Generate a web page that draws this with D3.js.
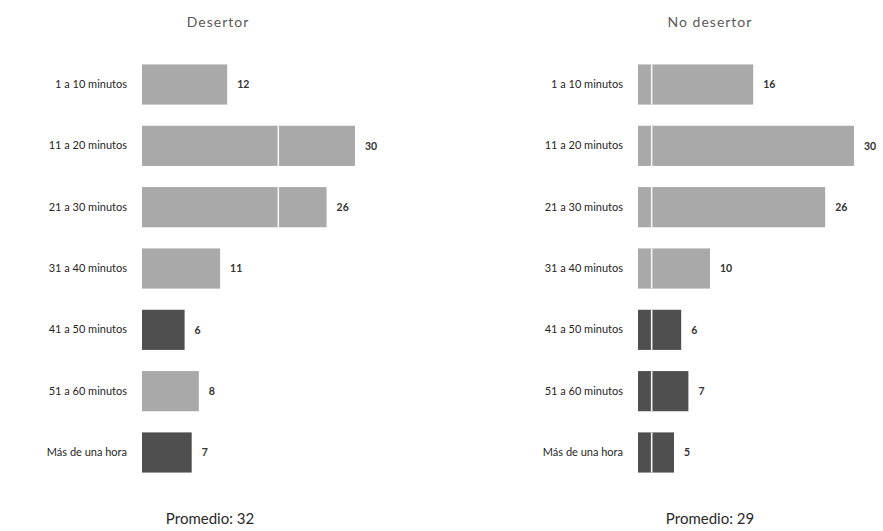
<!DOCTYPE html>
<html>
<head>
<meta charset="utf-8">
<script src="https://cdn.jsdelivr.net/npm/d3@7"></script>
<style>
  html, body { margin: 0; padding: 0; background: #fff; }
  svg { display: block; }
  text { font-family: Lato, "Open Sans", sans-serif; }
</style>
</head>
<body>
<svg id="chart" width="883" height="531"></svg>
<script>
// Tiempo de traslado por grupo
const categories = ["1 a 10 minutos", "11 a 20 minutos", "21 a 30 minutos", "31 a 40 minutos",
                    "41 a 50 minutos", "51 a 60 minutos", "Más de una hora"];
const desertorValues = [12, 30, 26, 11, 6, 8, 7];
const noDesertorValues = [16, 30, 26, 10, 6, 7, 5];
const desertorDark = [false, false, false, false, true, false, true];
const noDesertorDark = [false, false, false, false, true, true, true];
const panelTitles = ["Desertor", "No desertor"];
const averages = [32, 29];

const svg = d3.select("#chart");

const panels = [
  { title: panelTitles[0], values: desertorValues, dark: desertorDark, avg: averages[0],
    x0: 142, unit: 7.1, divider: 19.2, titleX: 218, avgX: 210 },
  { title: panelTitles[1], values: noDesertorValues, dark: noDesertorDark, avg: averages[1],
    x0: 638, unit: 7.2, divider: 1.9, titleX: 710, avgX: 710 }
];

const y = d3.scaleBand()
  .domain(categories)
  .range([54, 483])
  .paddingInner(0.345)
  .paddingOuter(0.17);

// soft edges on the fills
const defs = svg.append("defs");
const f = defs.append("filter").attr("id", "soft");
f.append("feGaussianBlur").attr("stdDeviation", 0.6);

panels.forEach(p => {
  const x = d3.scaleLinear().domain([0, 30]).range([p.x0, p.x0 + 30 * p.unit]);
  const g = svg.append("g");

  g.append("text")
    .attr("x", p.titleX).attr("y", 27)
    .attr("text-anchor", "middle")
    .attr("font-size", 14).attr("fill", "#5a5a5a")
    .attr("letter-spacing", 1)
    .text(p.title);

  // category axis labels
  const axis = d3.axisLeft(y).tickSize(0).tickPadding(0);
  const ax = g.append("g").attr("transform", `translate(${p.x0 - 15},0)`).call(axis);
  ax.select(".domain").remove();
  ax.selectAll("text").attr("font-size", 11).attr("fill", "#262626")
    .attr("font-family", "Lato, 'Open Sans', sans-serif");

  const rows = g.selectAll("g.row").data(categories).join("g").attr("class", "row");

  rows.append("rect")
    .attr("x", x(0))
    .attr("y", d => y(d))
    .attr("width", (d, i) => x(p.values[i]) - x(0))
    .attr("height", y.bandwidth())
    .attr("fill", (d, i) => p.dark[i] ? "#505050" : "#a9a9a9")
    .attr("filter", "url(#soft)");

  // white divider line crossing the bars
  rows.filter((d, i) => p.values[i] > p.divider)
    .append("line")
    .attr("x1", x(p.divider)).attr("x2", x(p.divider))
    .attr("y1", d => y(d)).attr("y2", d => y(d) + y.bandwidth())
    .attr("stroke", "#f4f4f4").attr("stroke-width", 1.6);

  rows.append("text")
    .attr("x", (d, i) => x(p.values[i]) + 10)
    .attr("y", d => y(d) + y.bandwidth() / 2)
    .attr("dy", "0.35em")
    .attr("font-size", 10.5).attr("font-weight", 700).attr("fill", "#333")
    .text((d, i) => p.values[i]);

  g.append("text")
    .attr("x", p.avgX).attr("y", 524)
    .attr("text-anchor", "middle")
    .attr("font-size", 15).attr("fill", "#2a2a2a")
    .text(`Promedio: ${p.avg}`);
});
</script>
</body>
</html>
